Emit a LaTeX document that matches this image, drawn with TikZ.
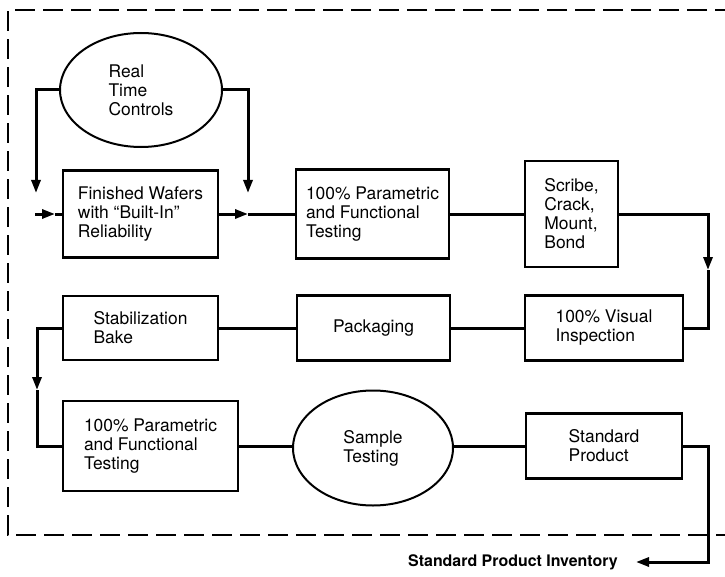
\documentclass[tikz,border=0pt]{standalone}
\usepackage{fontspec}
\setmainfont{TeX Gyre Heros}
\usetikzlibrary{arrows.meta,shapes.geometric}

\begin{document}
\begin{tikzpicture}[x=1bp,y=-1bp,font=\fontsize{17.5}{19}\selectfont,>={Triangle[length=13bp,width=9bp]},
  bx/.style={draw,line width=2.2bp,align=left,inner sep=0pt},
  el/.style={draw,ellipse,line width=2bp,align=left,inner sep=0pt},
  fl/.style={line width=3bp}]
  \useasboundingbox (0,0) rectangle (725,577);
  \clip (0,0) rectangle (725,577);
  % cadre
  \draw[line width=2.6bp,dash pattern=on 20bp off 8bp] (735,10) -- (8,10) -- (8,535) -- (735,535);
  % ligne 1
  \node[el,minimum width=162bp,minimum height=114bp] (rtc) at (141,90) {Real\\Time\\Controls};
  \node[bx,minimum width=155bp,minimum height=87bp] (wafer) at (140.5,214) {Finished Wafers\\with ``Built-In''\\Reliability};
  \node[bx,minimum width=153bp,minimum height=89bp] (ptesta) at (372.5,214) {100\% Parametric\\and Functional\\Testing};
  \node[bx,minimum width=93bp,minimum height=106bp] (scribe) at (571.5,214) {Scribe,\\Crack,\\Mount,\\Bond};
  % ligne 2
  \node[bx,minimum width=155bp,minimum height=64bp] (stab) at (140.5,328) {Stabilization\\Bake};
  \node[bx,minimum width=153bp,minimum height=65bp] (pack) at (373.5,328) {Packaging};
  \node[bx,minimum width=158bp,minimum height=65bp] (visual) at (604,328) {100\% Visual\\Inspection};
  % ligne 3
  \node[bx,minimum width=175bp,minimum height=90bp] (ptestb) at (150.5,446) {100\% Parametric\\and Functional\\Testing};
  \node[el,minimum width=160bp,minimum height=115bp] (sample) at (373,448) {Sample\\Testing};
  \node[bx,minimum width=156bp,minimum height=65bp] (std) at (604,446) {Standard\\Product};
  \node[font=\fontsize{16}{19}\selectfont\bfseries,anchor=east,inner xsep=18bp,inner ysep=2bp] (inv) at (636,562) {Standard Product Inventory};
  % points
  \coordinate (lin) at (35,214);
  \coordinate (lj) at (55,214);
  \coordinate (rj) at (248,214);
  \coordinate (ldn) at (36,193);
  \coordinate (rdn) at (248,193);
  \coordinate (rd) at (708,270);
  \coordinate (ld) at (37,390);
  \coordinate (ob) at (708,562);
  % fleches
  \draw[fl,->] (rtc.west) -| (ldn);
  \draw[fl,->] (rtc.east) -| (rdn);
  \draw[fl,->] (lin) -- (lj);
  \draw[fl] (lj) -- (wafer.west);
  \draw[fl,->] (wafer.east) -- (rj);
  \draw[fl] (rj) -- (ptesta.west);
  \draw[fl] (ptesta) -- (scribe);
  \draw[fl,->] (scribe.east) -| (rd);
  \draw[fl] (rd) |- (visual.east);
  \draw[fl] (visual) -- (pack);
  \draw[fl] (pack) -- (stab);
  \draw[fl,->] (stab.west) -| (ld);
  \draw[fl] (ld) |- (ptestb.west);
  \draw[fl] (ptestb.east) -- (sample.west |- ptestb.east);
  \draw[fl] (sample.east |- std.west) -- (std.west);
  \draw[fl,->] (std.east) -| (ob) -- (inv.east);
\end{tikzpicture}
\end{document}
